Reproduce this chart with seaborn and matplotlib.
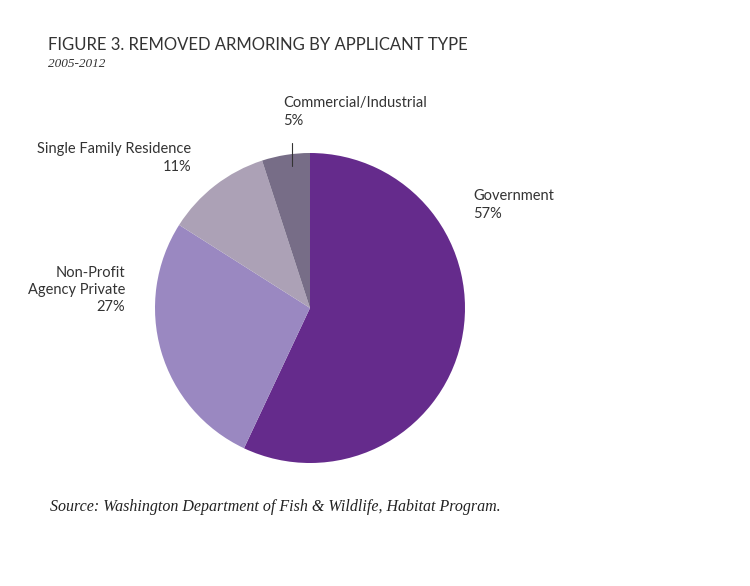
import matplotlib
matplotlib.use('Agg')
import matplotlib.pyplot as plt
import seaborn as sns

# Data
categories = ['Government', 'Non-Profit\nAgency Private', 'Single Family Residence', 'Commercial/Industrial']
shares = [57, 27, 11, 5]
colors = ['#652b8c', '#9a88c1', '#aca1b6', '#776d87']

sns.set_theme(style='white')
plt.rcParams['font.family'] = ['Lato', 'DejaVu Sans']

W, H = 750, 586
fig = plt.figure(figsize=(W / 100, H / 100), dpi=100)
fig.patch.set_facecolor('white')

# pie axes: centre ~ (310, 308) px, radius ~155 px
cx, cy, r = 310, 308, 155
ax = fig.add_axes([(cx - r) / W, (H - cy - r) / H, 2 * r / W, 2 * r / H])
ax.pie(shares, colors=colors, startangle=90, counterclock=False,
       wedgeprops=dict(linewidth=0))
ax.set_xlim(-1, 1)
ax.set_ylim(-1, 1)
ax.set_aspect('equal')
ax.axis('off')

def px(x, y):
    return x / W, 1 - y / H

txt = dict(fontsize=10.5, color='#333333')

# labels
fig.text(*px(473, 205), f'{categories[0]}\n{shares[0]}%', ha='left', va='center', linespacing=1.3, **txt)
fig.text(*px(125, 290), f'{categories[1]}\n{shares[1]}%', ha='right', va='center', linespacing=1.3, **txt)
fig.text(*px(191, 158), f'{categories[2]}\n{shares[2]}%', ha='right', va='center', linespacing=1.3, **txt)
fig.text(*px(283, 112), f'{categories[3]}\n{shares[3]}%', ha='left', va='center', linespacing=1.3, **txt)

# leader line for the small slice
fig.add_artist(plt.Line2D([292 / W, 292 / W], [1 - 143 / H, 1 - 166 / H],
                          transform=fig.transFigure, color='#333333', linewidth=0.8))

# title and subtitle
fig.text(*px(48, 45), 'FIGURE 3. REMOVED ARMORING BY APPLICANT TYPE', ha='left', va='center',
         fontsize=12, color='#333333')
fig.text(*px(48, 64), '2005-2012', ha='left', va='center', fontsize=9.5,
         color='#333333', family=['Liberation Serif'], style='italic')

# source
fig.text(*px(50, 507), 'Source: Washington Department of Fish & Wildlife, Habitat Program.',
         ha='left', va='center', fontsize=11.5, color='#222222',
         family=['Liberation Serif'], style='italic')

fig.savefig('out.png', dpi=100, facecolor='white')
